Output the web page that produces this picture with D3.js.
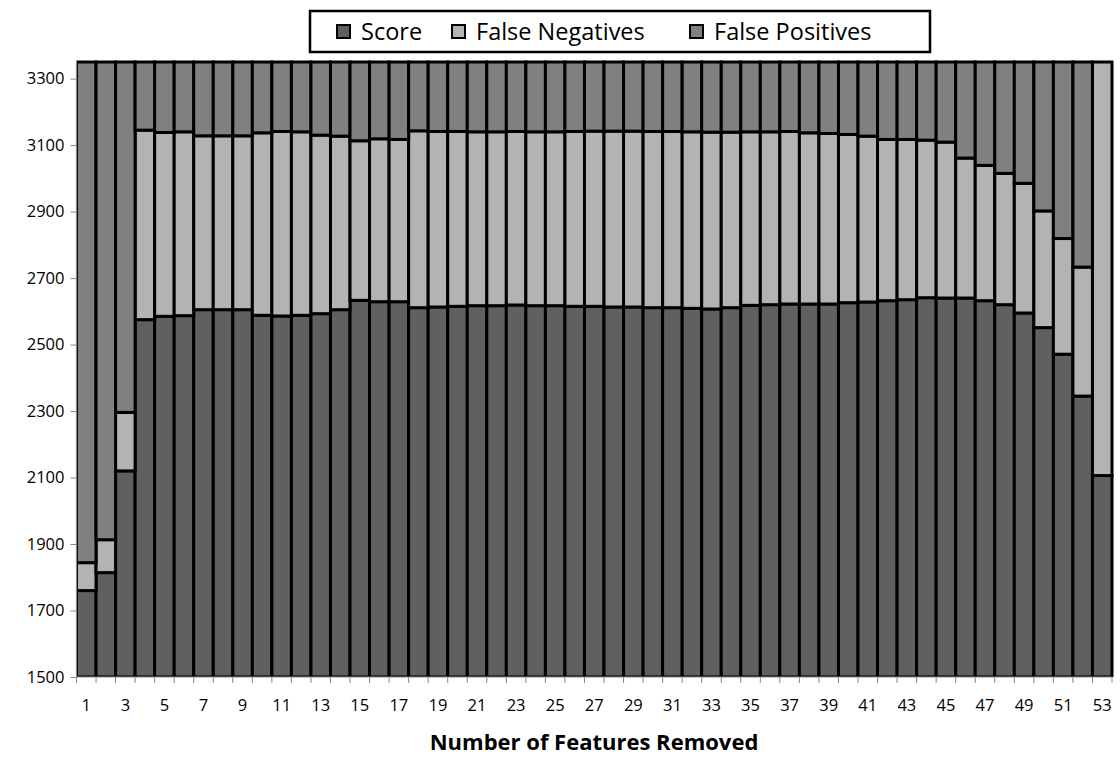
<!DOCTYPE html>
<html>
<head>
<meta charset="utf-8">
<script src="https://cdnjs.cloudflare.com/ajax/libs/d3/7.8.5/d3.min.js"></script>
<style>
  body { margin: 0; background: #fff; }
  svg { display: block; font-family: "Open Sans", "Noto Sans", sans-serif; }
</style>
</head>
<body>
<svg id="chart" width="1120" height="758"></svg>
<script>
// features removed, 1..53
var features = d3.range(1, 54);

var score = [
  1760, 1814, 2120, 2575, 2585, 2587, 2605, 2605, 2605, 2588,
  2586, 2588, 2593, 2605, 2633, 2629, 2629, 2611, 2613, 2615,
  2617, 2617, 2619, 2617, 2617, 2615, 2615, 2613, 2613, 2611,
  2611, 2609, 2607, 2611, 2618, 2620, 2622, 2622, 2622, 2626,
  2628, 2632, 2635, 2641, 2640, 2640, 2632, 2620, 2595, 2551,
  2471, 2345, 2106
];

var falseNeg = [
  84, 99, 176, 570, 553, 553, 523, 523, 523, 549,
  555, 552, 537, 522, 480, 490, 488, 532, 528, 526,
  523, 523, 522, 523, 523, 526, 527, 529, 529, 530,
  530, 531, 532, 528, 522, 520, 519, 515, 513, 506,
  499, 485, 482, 474, 469, 421, 407, 395, 390, 351,
  348, 388, 1244
];

var falsePos = [
  1506, 1437, 1054, 205, 212, 210, 222, 222, 222, 213,
  209, 210, 220, 223, 237, 231, 233, 207, 209, 209,
  210, 210, 209, 210, 210, 209, 208, 208, 208, 209,
  209, 210, 211, 211, 210, 210, 209, 213, 215, 218,
  223, 233, 233, 235, 241, 289, 311, 335, 365, 448,
  531, 617, 0
];

var seriesNames = ['Score', 'False Negatives', 'False Positives'];
var seriesColors = ['#606060', '#b3b3b3', '#808080'];
var yTicks = [1500, 1700, 1900, 2100, 2300, 2500, 2700, 2900, 3100, 3300];
var xLabels = features.filter(d => d % 2 === 1);

var svg = d3.select('#chart');
var mLeft = 76.5, mRight = 1112, mTop = 62, mBottom = 677;

var rows = features.map((f, i) => ({
  feature: f,
  'Score': score[i],
  'False Negatives': falseNeg[i],
  'False Positives': falsePos[i],
}));

var x = d3.scaleBand().domain(features).range([mLeft, mRight]).padding(0);
var y = d3.scaleLinear().domain([1500, 3350]).range([mBottom, mTop]);

var stacked = d3.stack().keys(seriesNames)(rows);

svg.append('clipPath')
  .attr('id', 'plotclip')
  .append('rect')
  .attr('x', mLeft)
  .attr('y', mTop - 3)
  .attr('width', mRight - mLeft + 3)
  .attr('height', mBottom - mTop + 3);

var plot = svg.append('g').attr('clip-path', 'url(#plotclip)');

stacked.forEach((layer, k) => {
  plot.append('g')
    .selectAll('rect')
    .data(layer.filter(d => d[1] > d[0]))
    .enter()
    .append('rect')
    .attr('x', d => x(d.data.feature))
    .attr('width', x.bandwidth())
    .attr('y', d => y(d[1]))
    .attr('height', d => y(Math.max(d[0], 1500)) - y(d[1]))
    .style('fill', seriesColors[k])
    .style('stroke', '#000')
    .style('stroke-width', 3);
});

// y axis
var yAxis = svg.append('g')
  .attr('transform', `translate(${mLeft},0)`)
  .call(d3.axisLeft(y).tickValues(yTicks).tickFormat(d3.format('d'))
    .tickSize(6).tickPadding(6).tickSizeOuter(0));
yAxis.select('.domain').attr('d', `M0,${mTop}V${mBottom}`)
  .style('stroke', '#888').style('stroke-width', 1.2);
yAxis.selectAll('.tick line').style('stroke', '#888');
yAxis.selectAll('.tick text')
  .style('font-size', '16.5px')
  .style('fill', '#000')
  .style('font-family', '"Open Sans", sans-serif');

// x axis
svg.append('line')
  .attr('x1', mLeft).attr('x2', mRight)
  .attr('y1', mBottom).attr('y2', mBottom)
  .style('stroke', '#888').style('stroke-width', 1.2);

svg.append('g')
  .selectAll('line')
  .data(features.concat([null]))
  .enter()
  .append('line')
  .attr('x1', d => d === null ? mRight : x(d))
  .attr('x2', d => d === null ? mRight : x(d))
  .attr('y1', mBottom)
  .attr('y2', mBottom + 6)
  .style('stroke', '#888');

var xAxis = svg.append('g')
  .attr('transform', `translate(0,${mBottom})`)
  .call(d3.axisBottom(x).tickValues(xLabels).tickSize(0).tickPadding(22));
xAxis.select('.domain').remove();
xAxis.selectAll('.tick text')
  .style('font-size', '16.5px')
  .style('fill', '#000')
  .style('font-family', '"Open Sans", sans-serif');

svg.append('text')
  .attr('x', 594)
  .attr('y', 750)
  .attr('text-anchor', 'middle')
  .style('font-size', '22px')
  .style('font-weight', 'bold')
  .text('Number of Features Removed');

// legend
var legend = svg.append('g');
legend.append('rect')
  .attr('x', 310).attr('y', 11)
  .attr('width', 620).attr('height', 41)
  .style('fill', '#fff').style('stroke', '#000').style('stroke-width', 2.5);

var legendX = [337, 452, 690];
var items = legend.selectAll('g.item')
  .data(seriesNames)
  .enter()
  .append('g')
  .attr('class', 'item')
  .attr('transform', (d, i) => `translate(${legendX[i]},31.5)`);
items.append('rect')
  .attr('x', 0).attr('y', -6.5)
  .attr('width', 13).attr('height', 13)
  .style('fill', (d, i) => seriesColors[i])
  .style('stroke', '#000').style('stroke-width', 2);
items.append('text')
  .attr('x', 24).attr('y', 8.5)
  .style('font-size', '23.5px')
  .text(d => d);
</script>
</body>
</html>
